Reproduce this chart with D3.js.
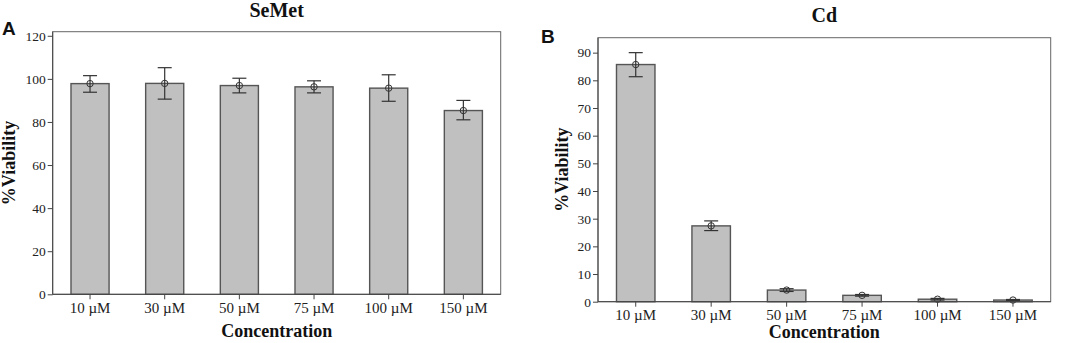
<!DOCTYPE html>
<html>
<head>
<meta charset="utf-8">
<script src="https://cdn.jsdelivr.net/npm/d3@7"></script>
<style>
body { margin: 0; background: #fff; }
</style>
</head>
<body>
<svg id="chart" width="1072" height="343"></svg>
<script>
var concentrations = ['10 µM', '30 µM', '50 µM', '75 µM', '100 µM', '150 µM'];

var semetMean = [97.8, 97.9, 96.9, 96.3, 95.7, 85.3];
var semetHigh = [101.5, 105.2, 100.3, 99.1, 101.9, 90.0];
var semetLow = [93.8, 90.6, 93.5, 93.5, 89.6, 81.0];
var semetTicks = [0, 20, 40, 60, 80, 100, 120];

var cdMean = [85.7, 27.4, 4.2, 2.3, 0.9, 0.6];
var cdHigh = [90.0, 29.2, 4.7, 2.6, 1.2, 0.8];
var cdLow = [81.3, 25.7, 3.7, 2.0, 0.6, 0.4];
var cdTicks = [0, 10, 20, 30, 40, 50, 60, 70, 80, 90];

var SERIF = '"Liberation Serif", "Times New Roman", serif';

var svg = d3.select('#chart');

drawPanel({
    letter: 'A', letterX: 2, letterY: 35,
    title: 'SeMet', titleY: 17,
    left: 52.7, right: 500.7, top: 31.7, bottom: 294.3,
    yMax: 121.9, ticks: semetTicks,
    mean: semetMean, high: semetHigh, low: semetLow,
    yLabelX: 15, xLabelY: 337, tickLabelY: 313
});

drawPanel({
    letter: 'B', letterX: 541, letterY: 43,
    title: 'Cd', titleY: 22,
    left: 598, right: 1050.7, top: 37.7, bottom: 301.7,
    yMax: 95.4, ticks: cdTicks,
    mean: cdMean, high: cdHigh, low: cdLow,
    yLabelX: 568, xLabelY: 338, tickLabelY: 320
});

function drawPanel(p) {
    var g = svg.append('g');

    var x = d3.scaleBand()
        .domain(concentrations)
        .range([p.left, p.right])
        .paddingInner(0.49)
        .paddingOuter(0.245);
    var y = d3.scaleLinear()
        .domain([0, p.yMax])
        .range([p.bottom, p.top]);

    // frame
    g.append('rect')
        .attr('x', p.left).attr('y', p.top)
        .attr('width', p.right - p.left).attr('height', p.bottom - p.top)
        .attr('fill', 'none').attr('stroke', '#666').attr('stroke-width', 1);

    // bars
    g.selectAll('.bar')
        .data(concentrations)
        .enter()
        .append('rect')
        .attr('class', 'bar')
        .attr('x', function(d) { return x(d); })
        .attr('y', function(d, i) { return y(p.mean[i]); })
        .attr('width', x.bandwidth())
        .attr('height', function(d, i) { return p.bottom - y(p.mean[i]); })
        .attr('fill', '#c0c0c0')
        .attr('stroke', '#555')
        .attr('stroke-width', 1.4);

    // error bars
    var gErr = g.append('g').attr('stroke', '#333').attr('stroke-width', 1.2).attr('fill', 'none');
    var capW = 7;
    concentrations.forEach(function(d, i) {
        var cx = x(d) + x.bandwidth() / 2;
        gErr.append('line')
            .attr('x1', cx).attr('x2', cx)
            .attr('y1', y(p.high[i])).attr('y2', y(p.low[i]));
        gErr.append('line')
            .attr('x1', cx - capW).attr('x2', cx + capW)
            .attr('y1', y(p.high[i])).attr('y2', y(p.high[i]));
        gErr.append('line')
            .attr('x1', cx - capW).attr('x2', cx + capW)
            .attr('y1', y(p.low[i])).attr('y2', y(p.low[i]));
        gErr.append('circle')
            .attr('cx', cx).attr('cy', y(p.mean[i])).attr('r', 3.2)
            .attr('stroke-width', 1);
    });

    // axes
    var yAxis = d3.axisLeft(y).tickValues(p.ticks).tickSize(5).tickPadding(2);
    var gy = g.append('g').attr('transform', 'translate(' + p.left + ',0)').call(yAxis);
    gy.select('.domain').attr('stroke', '#444').attr('d', 'M0,' + p.top + 'V' + p.bottom);
    gy.selectAll('.tick line').attr('stroke', '#444');
    gy.selectAll('.tick text').attr('font-size', 13.5).attr('fill', '#222')
        .style('font-family', SERIF);

    var xAxis = d3.axisBottom(x).tickSize(5).tickPadding(6);
    var gx = g.append('g').attr('transform', 'translate(0,' + p.bottom + ')').call(xAxis);
    gx.select('.domain').attr('stroke', '#444').attr('d', 'M' + p.left + ',0H' + p.right);
    gx.selectAll('.tick line').attr('stroke', '#444');
    gx.selectAll('.tick text').attr('font-size', 15).attr('fill', '#222')
        .attr('dy', null)
        .attr('y', p.tickLabelY - p.bottom)
        .style('font-family', SERIF);

    var midX = (p.left + p.right) / 2;
    var midY = (p.top + p.bottom) / 2;

    g.append('text')
        .attr('x', midX).attr('y', p.titleY)
        .attr('text-anchor', 'middle')
        .attr('font-size', 20).attr('font-weight', 'bold').attr('fill', '#111')
        .style('font-family', SERIF)
        .text(p.title);

    g.append('text')
        .attr('x', midX).attr('y', p.xLabelY)
        .attr('text-anchor', 'middle')
        .attr('font-size', 18).attr('font-weight', 'bold').attr('fill', '#111')
        .style('font-family', SERIF)
        .text('Concentration');

    g.append('text')
        .attr('transform', 'translate(' + p.yLabelX + ',' + midY + ') rotate(-90)')
        .attr('text-anchor', 'middle')
        .attr('font-size', 18).attr('font-weight', 'bold').attr('fill', '#111')
        .style('font-family', SERIF)
        .text('%Viability');

    g.append('text')
        .attr('x', p.letterX).attr('y', p.letterY)
        .attr('font-size', 19).attr('font-weight', 'bold').attr('fill', '#111')
        .style('font-family', '"Liberation Sans", Arial, sans-serif')
        .text(p.letter);
}
</script>
</body>
</html>
